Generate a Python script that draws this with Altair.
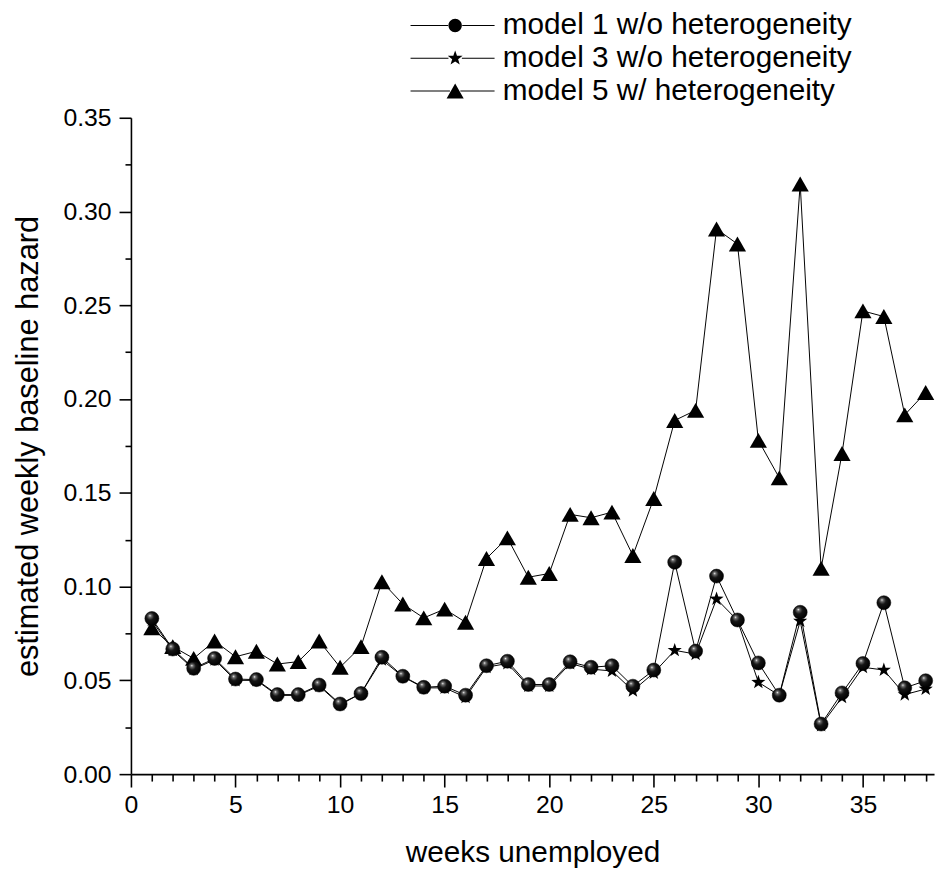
import altair as alt
import pandas as pd

weeks = list(range(1, 39))

model1 = [0.083, 0.0667, 0.0564, 0.0617, 0.0507, 0.0504, 0.0424, 0.0424, 0.0475, 0.0374,
          0.043, 0.0623, 0.0522, 0.0463, 0.0469, 0.0421, 0.0578, 0.0602, 0.0478, 0.0478,
          0.0599, 0.057, 0.0578, 0.0469, 0.0555, 0.113, 0.0656, 0.1056, 0.0822, 0.0593,
          0.0421, 0.0863, 0.0267, 0.0433, 0.059, 0.0914, 0.046, 0.0498]

model3 = [0.082, 0.066, 0.056, 0.061, 0.050, 0.050, 0.042, 0.042, 0.047, 0.037,
          0.043, 0.061, 0.052, 0.046, 0.046, 0.041, 0.057, 0.059, 0.047, 0.047,
          0.059, 0.056, 0.055, 0.0445, 0.054, 0.066, 0.064, 0.0934, 0.082, 0.049,
          0.042, 0.0816, 0.026, 0.041, 0.057, 0.0555, 0.0424, 0.0454]

model5 = [0.078, 0.068, 0.0617, 0.071, 0.0626, 0.0655, 0.0587, 0.060, 0.071, 0.057,
          0.068, 0.1026, 0.0907, 0.0833, 0.088, 0.081, 0.115, 0.126, 0.105, 0.107,
          0.1385, 0.1367, 0.1397, 0.1166, 0.147, 0.1886, 0.194, 0.2907, 0.2827, 0.178,
          0.158, 0.3147, 0.1097, 0.171, 0.247, 0.244, 0.1916, 0.2035]

series_names = ["model 1 w/o heterogeneity", "model 3 w/o heterogeneity", "model 5 w/ heterogeneity"]
x_ticks = list(range(0, 39))
y_ticks = [round(i * 0.025, 3) for i in range(15)]

df = pd.DataFrame({
    "week": weeks * 3,
    "hazard": model1 + model3 + model5,
    "series": [n for n in series_names for _ in weeks],
})

FONT = "Liberation Sans"

STAR = ("M0,-1L0.235,-0.324L0.951,-0.309L0.38,0.124L0.588,0.809L0,0.4"
        "L-0.588,0.809L-0.38,0.124L-0.951,-0.309L-0.235,-0.324Z")
# legend glyphs: a thin filled bar on each side of the marker shape
LEG_CIRCLE = ("M-6,-0.07H-0.95V0.07H-6ZM0.95,-0.07H5.3V0.07H0.95Z"
              "M-0.9,0A0.9,0.9,0,1,1,0.9,0A0.9,0.9,0,1,1,-0.9,0Z")
LEG_STAR = ("M-6,-0.07H-0.9V0.07H-6ZM0.9,-0.07H5.3V0.07H0.9Z"
            "M0,-1.05L0.247,-0.34L1.0,-0.324L0.4,0.13L0.617,0.85L0,0.42"
            "L-0.617,0.85L-0.4,0.13L-1.0,-0.324L-0.247,-0.34Z")
LEG_TRI = ("M-6,-0.07H-0.7V0.07H-6ZM0.7,-0.07H5.3V0.07H0.7Z"
           "M0,-1L1.15,1L-1.15,1Z")

MAJOR_Y = "abs(datum.value*20 - round(datum.value*20)) < 0.001"

x_enc = alt.X(
    "week:Q",
    scale=alt.Scale(domain=[0, 38.4], nice=False, zero=False),
    axis=alt.Axis(
        values=x_ticks,
        labelExpr="datum.value % 5 === 0 ? datum.label : ''",
        tickSize={"condition": {"test": "datum.value % 5 === 0", "value": 13}, "value": 7},
        title="weeks unemployed",
        grid=False,
        labelFlush=False,
        labelOverlap=False,
        labelPadding=6,
        titlePadding=20,
        titleFontSize=30,
    ),
)
y_enc = alt.Y(
    "hazard:Q",
    scale=alt.Scale(domain=[0, 0.35], nice=False),
    axis=alt.Axis(
        values=y_ticks,
        format=".2f",
        labelExpr=MAJOR_Y + " ? datum.label : ''",
        tickSize={"condition": {"test": MAJOR_Y, "value": 12}, "value": 6},
        title="estimated weekly baseline hazard",
        grid=False,
        labelOverlap=False,
        labelPadding=8,
        titlePadding=19,
        titleFontSize=31,
    ),
)

base = alt.Chart(df).encode(x=x_enc, y=y_enc)

sphere = alt.RadialGradient(
    gradient="radial",
    stops=[
        alt.GradientStop(color="#ffffff", offset=0),
        alt.GradientStop(color="#707070", offset=0.15),
        alt.GradientStop(color="#151515", offset=0.45),
        alt.GradientStop(color="#000000", offset=1),
    ],
    x1=0.36, y1=0.3, r1=0, x2=0.42, y2=0.4, r2=0.6,
)


def series_layers(name, point_mark):
    sub = base.transform_filter(alt.datum.series == name)
    line = sub.mark_line(color="black", strokeWidth=1)
    pts = sub.mark_point(**point_mark)
    return [line, pts]


layers = []
layers += series_layers(series_names[2], dict(shape="triangle-up", size=300, filled=True,
                                              color="black", opacity=1))
layers += series_layers(series_names[1], dict(shape=STAR, size=225, filled=True,
                                              color="black", opacity=1))
layers += series_layers(series_names[0], dict(shape="circle", size=200, filled=True,
                                              fill=sphere, stroke="black", strokeWidth=0.5,
                                              opacity=1))

legend_layer = base.mark_point(opacity=0, filled=True, color="black").encode(
    shape=alt.Shape(
        "series:N",
        scale=alt.Scale(domain=series_names, range=[LEG_CIRCLE, LEG_STAR, LEG_TRI]),
        legend=alt.Legend(
            orient="none", legendX=312, legendY=-108, title=None,
            labelFontSize=30, labelFont=FONT, labelColor="black", labelLimit=0,
            symbolSize=225, symbolFillColor="black", symbolOpacity=1,
            labelOffset=33, rowPadding=3, padding=0,
        ),
    )
)

chart = alt.layer(*layers, legend_layer).properties(
    width=810, height=662,
    autosize=alt.AutoSizeParams(type="none"),
    padding={"left": 124, "top": 107, "right": 5, "bottom": 95},
).configure_view(stroke=None).configure_axis(
    domainColor="black", domainWidth=1.6, tickColor="black", tickWidth=1.6,
    labelFont=FONT, labelFontSize=25, labelColor="black",
    titleFont=FONT, titleFontWeight="normal", titleColor="black",
)

chart.save("out.html", embed_options={"renderer": "svg", "actions": False})
